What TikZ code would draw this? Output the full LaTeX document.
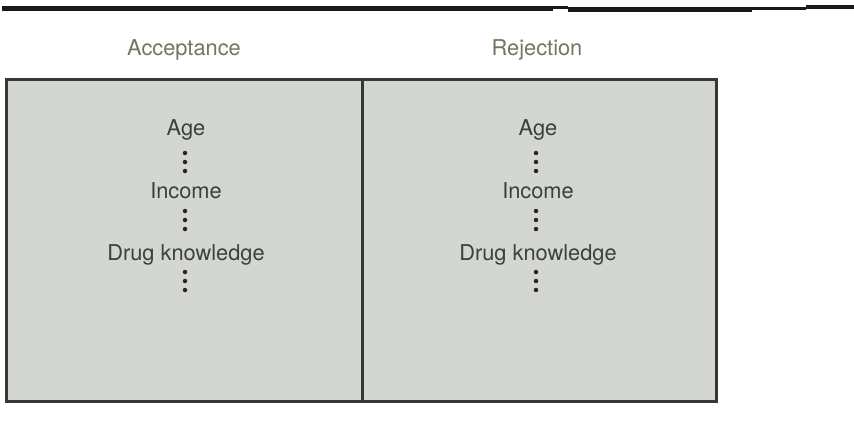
\documentclass[tikz,border=0pt]{standalone}
\usepackage{fontspec}
\setmainfont{TeX Gyre Heros}
\definecolor{panelfill}{HTML}{D3D6D1}
\definecolor{framecol}{HTML}{353835}
\definecolor{headcol}{HTML}{6F7760}
\definecolor{textcol}{HTML}{3E403E}
\tikzset{
  x=1pt, y=1pt,
  heading/.style={anchor=base, text=headcol, font=\fontsize{21.8}{26}\selectfont, inner sep=0pt},
  item/.style={anchor=base, text=textcol, font=\fontsize{21.8}{26}\selectfont, inner sep=0pt},
  panel/.style={draw=framecol, line width=3pt, fill=panelfill},
  vdot/.style={circle, fill=black!85, inner sep=0pt, minimum size=4.5pt},
  rule/.style={line width=5pt, draw=black!90}
}
\begin{document}
\begin{tikzpicture}
\useasboundingbox (0,0) rectangle (854,-431);
% top rule (scan has small steps)
\draw[rule] (2,-8.5) -- (553,-8.5);
\draw[line width=3pt, draw=black!90] (553,-7.5) -- (568,-7.5);
\draw[line width=4.5pt, draw=black!90] (568,-9.5) -- (752,-9.5);
\draw[line width=3pt, draw=black!90] (752,-8) -- (806,-8);
\draw[line width=4.5pt, draw=black!90] (806,-7) -- (854,-7);
% headings
\node[heading] (hacc) at (184,-55) {Acceptance};
\node[heading] (hrej) at (537,-55) {Rejection};
% panels
\draw[panel] (6,-79) rectangle (362,-401);
\draw[panel] (362,-79) rectangle (716,-401);
% left column
\node[item] (la) at (186,-135) {Age};
\node[item] (li) at (186,-198) {Income};
\node[item] (ld) at (186,-260) {Drug knowledge};
\foreach \y in {153,162,171,211,220,229,272,281,290}
  \node[vdot] at (185,-\y) {};
% right column
\node[item] (ra) at (538,-135) {Age};
\node[item] (ri) at (538,-198) {Income};
\node[item] (rd) at (538,-260) {Drug knowledge};
\foreach \y in {153,162,171,211,220,229,272,281,290}
  \node[vdot] at (536,-\y) {};
\end{tikzpicture}
\end{document}
